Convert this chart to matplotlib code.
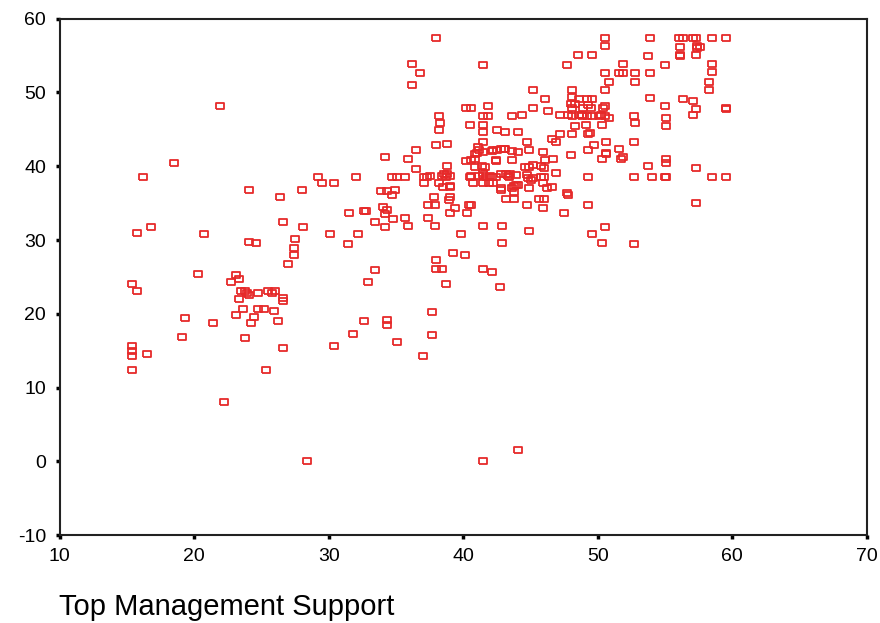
import matplotlib.pyplot as plt

# Top Management Support (x) vs. outcome score (y)
support = [
    15.4, 15.7, 15.4, 15.4, 15.4, 15.4, 16.5, 15.7, 16.2, 16.8, 18.5, 19.1, 19.3, 20.3,
    20.7, 21.4, 21.9, 22.2, 22.7, 23.1, 23.3, 23.5, 23.8, 23.9, 24.1, 23.3, 24.7, 25.5,
    26.0, 25.8, 26.6, 26.6, 23.6, 23.1, 24.7, 25.2, 25.9, 24.4, 24.2, 26.2, 23.8, 26.6,
    25.3, 24.1, 24.6, 24.1, 26.4, 26.6, 27.5, 27.4, 27.4, 27.0, 28.0, 28.1, 28.4, 29.2,
    29.5, 30.4, 30.1, 30.4, 31.4, 31.5, 32.0, 32.2, 31.8, 32.6, 32.8, 32.6, 32.9, 33.4,
    33.4, 34.2, 33.9, 34.3, 34.7, 34.0, 34.3, 34.2, 34.2, 34.8, 34.3, 34.3, 35.1, 34.7,
    35.1, 35.7, 34.9, 35.7, 35.9, 35.9, 36.5, 36.2, 36.8, 36.2, 36.5, 37.1, 37.3, 37.1,
    37.4, 37.9, 37.8, 37.4, 37.9, 37.0, 37.7, 37.7, 38.0, 38.2, 38.3, 38.2, 38.0, 38.8,
    38.2, 38.5, 38.8, 38.7, 38.8, 38.6, 39.0, 38.9, 39.0, 39.4, 38.0, 38.0, 38.4, 38.7,
    39.2, 39.8, 40.1, 40.3, 40.4, 40.6, 40.2, 40.6, 40.5, 40.7, 40.2, 40.6, 40.5, 41.5,
    41.5, 41.8, 41.8, 41.5, 41.5, 41.5, 41.1, 40.9, 41.5, 41.4, 41.6, 41.5, 41.7, 41.5,
    41.9, 42.1, 42.4, 42.8, 42.2, 42.8, 42.4, 42.5, 43.1, 43.1, 43.6, 44.4, 44.1, 43.6,
    43.6, 44.1, 43.2, 43.5, 43.4, 42.8, 43.2, 43.8, 43.6, 43.9, 43.8, 41.5, 42.9, 42.9,
    41.5, 42.1, 42.7, 41.5, 44.1, 44.7, 44.9, 45.2, 45.2, 44.6, 44.9, 45.2, 44.8, 45.0,
    45.2, 44.9, 44.7, 44.9, 45.6, 46.0, 45.9, 45.8, 46.0, 46.0, 45.9, 45.9, 46.1, 46.3,
    46.6, 46.9, 47.2, 46.6, 46.9, 46.7, 47.2, 47.5, 47.8, 47.7, 48.0, 48.1, 48.1, 48.0,
    48.3, 48.1, 47.8, 48.1, 48.6, 48.3, 48.1, 48.5, 49.6, 48.6, 48.9, 49.2, 49.6, 49.1,
    49.3, 49.2, 49.6, 49.3, 49.7, 49.3, 49.3, 49.6, 50.5, 50.5, 50.5, 50.8, 50.5, 50.5,
    50.2, 50.5, 50.8, 50.3, 50.6, 50.6, 50.3, 50.5, 50.3, 51.6, 51.7, 51.9, 51.9, 51.6,
    51.9, 52.8, 52.8, 52.7, 52.8, 52.7, 52.7, 52.7, 53.9, 53.7, 53.9, 53.9, 53.7, 54.0,
    55.0, 55.0, 55.1, 55.1, 55.1, 55.1, 55.0, 55.1, 56.0, 56.3, 56.1, 56.1, 56.1, 56.3,
    57.1, 57.3, 57.4, 57.4, 57.3, 57.1, 57.3, 57.1, 57.3, 57.3, 58.5, 58.5, 58.5, 58.3,
    58.3, 58.5, 59.5, 59.5, 59.5, 59.5,
    48.8, 50.1, 49.5, 50.4, 49.4, 50.6, 43.0, 42.5, 42.1, 41.2, 41.0, 40.9, 42.4, 37.5,
    38.4, 39.0, 40.6, 41.2, 42.0, 43.3, 43.9, 44.7, 45.8, 46.1, 41.5, 40.9, 42.2, 42.8,
    43.8, 44.1, 39.0, 39.0, 46.2, 47.7, 57.6, 49.3, 48.8,
]
score = [
    24.1, 23.1, 15.7, 14.9, 14.3, 12.4, 14.5, 31.0, 38.6, 31.7, 40.5, 16.9, 19.4, 25.4,
    30.8, 18.8, 48.1, 8.0, 24.3, 25.3, 24.7, 23.1, 23.1, 22.8, 22.5, 22.0, 22.8, 23.1,
    23.1, 22.8, 22.1, 21.7, 20.6, 19.9, 20.6, 20.6, 20.4, 19.6, 18.8, 19.0, 16.7, 15.3,
    12.4, 29.8, 29.6, 36.8, 35.9, 32.4, 30.1, 28.9, 28.0, 26.8, 36.8, 31.7, 0.0, 38.6,
    37.7, 37.7, 30.8, 15.7, 29.4, 33.6, 38.6, 30.8, 17.3, 34.0, 34.0, 19.0, 24.3, 25.9,
    32.4, 41.2, 36.6, 36.6, 36.1, 34.5, 34.1, 33.5, 31.7, 32.8, 19.2, 18.5, 16.2, 38.6,
    38.6, 38.6, 36.8, 33.0, 31.9, 41.0, 42.2, 53.9, 52.6, 51.0, 39.6, 38.6, 38.6, 37.7,
    34.7, 34.7, 35.9, 33.0, 31.9, 14.3, 20.3, 17.1, 57.4, 46.8, 45.8, 44.9, 42.9, 43.0,
    37.7, 37.2, 40.0, 38.6, 39.0, 38.9, 37.2, 35.4, 33.7, 34.3, 27.3, 26.1, 26.1, 24.1,
    28.2, 30.8, 28.0, 33.7, 34.7, 34.7, 40.7, 40.9, 38.6, 37.7, 47.9, 47.9, 45.6, 53.7,
    46.8, 46.8, 48.1, 45.6, 44.7, 43.3, 42.6, 41.7, 41.9, 40.0, 39.9, 38.8, 38.6, 37.7,
    37.7, 38.6, 38.6, 39.0, 42.2, 42.3, 40.7, 44.9, 44.7, 42.4, 46.8, 47.0, 44.7, 42.1,
    40.9, 41.9, 39.0, 39.0, 38.5, 36.8, 35.6, 35.6, 37.0, 37.4, 36.5, 31.9, 31.9, 29.6,
    26.1, 25.7, 23.6, 0.0, 1.6, 43.3, 42.2, 50.3, 47.9, 39.9, 39.9, 40.2, 38.4, 38.1,
    38.4, 37.0, 34.7, 31.2, 35.6, 35.6, 34.3, 40.0, 39.7, 38.6, 37.7, 41.9, 49.1, 47.5,
    43.7, 43.3, 44.4, 37.2, 39.1, 41.0, 47.0, 33.6, 36.1, 53.7, 41.5, 50.3, 49.4, 48.5,
    48.5, 47.9, 47.0, 46.8, 47.0, 45.4, 44.4, 55.1, 55.1, 49.1, 47.9, 46.8, 46.8, 45.6,
    44.4, 49.1, 49.1, 42.2, 42.9, 38.6, 34.7, 30.8, 57.4, 56.3, 52.6, 51.4, 50.3, 48.1,
    47.0, 46.8, 46.5, 45.6, 43.3, 41.7, 41.0, 31.7, 29.6, 42.3, 41.0, 41.2, 53.9, 52.6,
    52.6, 52.6, 51.4, 46.8, 45.8, 43.3, 38.6, 29.4, 57.4, 54.9, 52.6, 49.3, 40.0, 38.6,
    53.7, 48.1, 46.5, 45.4, 41.0, 40.4, 38.6, 38.6, 57.4, 57.4, 56.1, 55.1, 54.9, 49.1,
    57.4, 57.4, 56.3, 56.0, 55.1, 48.9, 47.7, 47.0, 39.8, 35.0, 57.4, 53.9, 52.8, 51.4,
    50.3, 38.6, 57.4, 47.7, 47.9, 38.6,
    46.8, 46.8, 47.9, 47.9, 44.5, 41.8, 42.4, 42.2, 42.0, 42.2, 41.8, 41.0, 40.9, 38.7,
    38.7, 38.7, 38.7, 38.7, 38.7, 38.7, 38.8, 38.8, 38.6, 40.9, 39.1, 39.9, 37.7, 37.0,
    37.3, 37.5, 37.3, 35.9, 37.0, 36.4, 56.2, 48.3, 46.9,
]

x_ticks = [10, 20, 30, 40, 50, 60, 70]
y_ticks = [-10, 0, 10, 20, 30, 40, 50, 60]

plt.rcParams["font.family"] = ["Liberation Sans", "DejaVu Sans"]
plt.rcParams["axes.unicode_minus"] = False

fig = plt.figure(figsize=(8.8, 6.23), dpi=100)
ax = fig.add_axes([0.068, 0.141, 0.917, 0.829])

# open rectangles, a little wider than tall
rect = [(-1.25, -1), (1.25, -1), (1.25, 1), (-1.25, 1), (-1.25, -1)]
ax.plot(support, score, linestyle="none", marker=rect, markersize=6.1,
        markerfacecolor="none", markeredgecolor="#e62a2a", markeredgewidth=1.3)

ax.set_xlim(10, 70)
ax.set_ylim(-10, 60)
ax.set_xticks(x_ticks)
ax.set_yticks(y_ticks)
ax.tick_params(axis="both", direction="out", length=3, width=2.5,
               labelsize=14, colors="black")
ax.tick_params(axis="x", pad=6)
ax.tick_params(axis="y", pad=7)

for spine in ax.spines.values():
    spine.set_linewidth(1.5)
    spine.set_color("#222222")

fig.text(0.067, 0.003, "Top Management Support", fontsize=21, ha="left", va="bottom")

plt.savefig("out.png", dpi=100)
plt.close()
